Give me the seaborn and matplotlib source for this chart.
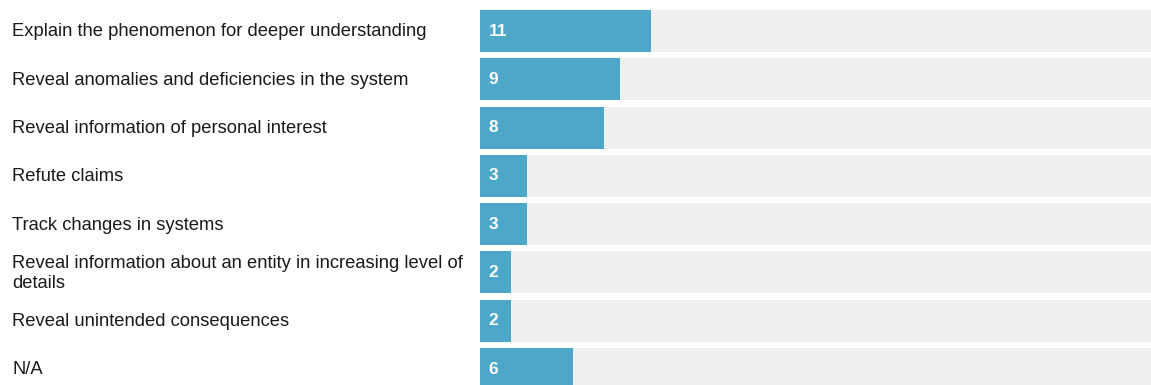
import matplotlib
matplotlib.use("Agg")
import matplotlib.pyplot as plt
import matplotlib.transforms as mtransforms
import seaborn as sns
import pandas as pd

categories = [
    "Explain the phenomenon for deeper understanding",
    "Reveal anomalies and deficiencies in the system",
    "Reveal information of personal interest",
    "Refute claims",
    "Track changes in systems",
    "Reveal information about an entity in increasing level of\ndetails",
    "Reveal unintended consequences",
    "N/A",
]
values = [11, 9, 8, 3, 3, 2, 2, 6]
total = sum(values)

sns.set_theme(style="white")
plt.rcParams['font.family'] = ['Liberation Sans', 'DejaVu Sans']

df = pd.DataFrame({"cat": categories, "value": values, "track": [total] * len(values)})

fig = plt.figure(figsize=(11.51, 3.85), dpi=100)
ax = fig.add_axes([480 / 1151, 0, 671 / 1151, 1])

pitch = 48.29
sns.barplot(data=df, y="cat", x="track", orient="h", color="#efefef",
            width=42 / pitch, ax=ax, saturation=1, linewidth=0)
sns.barplot(data=df, y="cat", x="value", orient="h", color="#4ca7c9",
            width=42 / pitch, ax=ax, saturation=1, linewidth=0)

ax.set_xlim(0, 671 / 15.55)
ax.set_ylim((385 - 31) / pitch, -31 / pitch)
ax.set_xlabel("")
ax.set_ylabel("")
ax.set_xticks([])
ax.set_yticks([])
for s in ax.spines.values():
    s.set_visible(False)

trans = mtransforms.blended_transform_factory(fig.transFigure, ax.transData)
for i, (c, v) in enumerate(zip(categories, values)):
    ax.text(12 / 1151, i + 0.02, c, transform=trans, ha="left", va="center",
            fontsize=13.2, color="#1a1a1a", linespacing=1.2)
    ax.text(0.55, i, str(v), ha="left", va="center", fontsize=12.5,
            fontweight="bold", color="white")

fig.savefig("out.png", dpi=100)
